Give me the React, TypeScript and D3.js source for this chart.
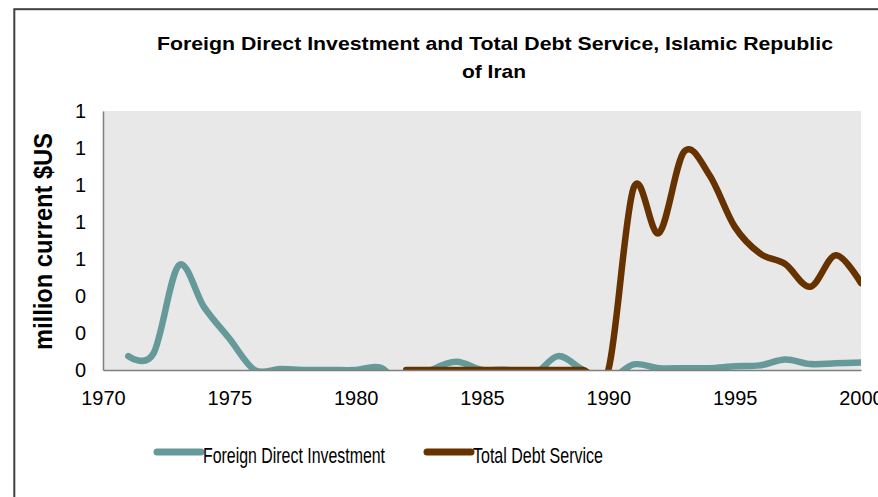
import React, { useEffect, useRef } from 'react';
import * as d3 from 'd3';

// years 1970..2000
const years = d3.range(1970, 2001);

// Foreign Direct Investment, million current $US (null = no data)
const fdiValues: (number | null)[] = [
  null, 0.075, 0.09, 0.565, 0.34, 0.17, 0, 0.005, 0, 0, 0,
  0.012, -0.1, 0, 0.045, 0, 0, -0.03, 0.075, 0, -0.05,
  0.03, 0.01, 0.01, 0.01, 0.02, 0.025, 0.057, 0.032, 0.036, 0.04,
];

// Total Debt Service, million current $US
const debtValues: (number | null)[] = [
  null, null, null, null, null, null, null, null, null, null, null,
  null, 0, 0, 0, 0, 0, 0, 0, 0, 0,
  0.985, 0.74, 1.18, 1.054, 0.775, 0.63, 0.573, 0.45, 0.62, 0.47,
];

const yTicks = [0, 0.2, 0.4, 0.6, 0.8, 1.0, 1.2, 1.4];
const xTicks = [1970, 1975, 1980, 1985, 1990, 1995, 2000];

const seriesNames = ['Foreign Direct Investment', 'Total Debt Service'];
const seriesColors = ['#669999', '#663300'];

interface Pt {
  year: number;
  v: number | null;
}

export default function App() {
  const svgRef = useRef<SVGSVGElement | null>(null);

  useEffect(() => {
    if (!svgRef.current) return;
    const svg = d3.select(svgRef.current);
    svg.selectAll('*').remove();

    const width = 878;
    const height = 497;
    const plot = { left: 103, right: 861, top: 111, bottom: 370 };
    const font = 'Liberation Sans, Arial, sans-serif';

    svg.attr('width', width).attr('height', height);

    // outer frame
    svg.append('rect')
      .attr('x', 14.3)
      .attr('y', 9.2)
      .attr('width', 1000)
      .attr('height', 1000)
      .attr('fill', 'white')
      .attr('stroke', '#404040')
      .attr('stroke-width', 2);

    const x = d3.scaleLinear().domain([1970, 2000]).range([plot.left, plot.right]);
    const y = d3.scaleLinear().domain([0, 1.4]).range([plot.bottom, plot.top]);

    // plot background
    svg.append('rect')
      .attr('x', plot.left)
      .attr('y', plot.top)
      .attr('width', plot.right - plot.left)
      .attr('height', plot.bottom - plot.top)
      .attr('fill', '#e8e8e8');

    svg.append('defs').append('clipPath')
      .attr('id', 'plot-clip')
      .append('rect')
      .attr('x', plot.left)
      .attr('y', plot.top)
      .attr('width', plot.right - plot.left)
      .attr('height', plot.bottom - plot.top);

    // title (two lines, stretched to the reference width)
    const title = svg.append('g')
      .attr('font-family', font)
      .attr('font-weight', 'bold')
      .attr('font-size', 18.5)
      .attr('fill', '#000');
    title.append('text')
      .attr('x', 157).attr('y', 50)
      .attr('textLength', 676)
      .attr('lengthAdjust', 'spacingAndGlyphs')
      .text('Foreign Direct Investment and Total Debt Service, Islamic Republic');
    title.append('text')
      .attr('x', 462).attr('y', 77.5)
      .attr('textLength', 64)
      .attr('lengthAdjust', 'spacingAndGlyphs')
      .text('of Iran');

    // y axis title
    svg.append('text')
      .attr('transform', 'translate(52,350) rotate(-90)')
      .attr('font-family', font)
      .attr('font-weight', 'bold')
      .attr('font-size', 25)
      .attr('textLength', 217)
      .attr('lengthAdjust', 'spacingAndGlyphs')
      .text('million current $US');

    // lines
    const line = d3.line<Pt>()
      .defined(d => d.v != null)
      .x(d => x(d.year))
      .y(d => y(d.v as number))
      .curve(d3.curveCardinal.tension(0));

    const series = [fdiValues, debtValues];
    const lines = svg.append('g').attr('clip-path', 'url(#plot-clip)');
    series.forEach((vals, i) => {
      const pts: Pt[] = years.map((yr, j) => ({ year: yr, v: vals[j] }));
      lines.append('path')
        .datum(pts)
        .attr('fill', 'none')
        .attr('stroke', seriesColors[i])
        .attr('stroke-width', 6.5)
        .attr('stroke-linecap', 'round')
        .attr('stroke-linejoin', 'round')
        .attr('d', line);
    });

    // axes
    const yAxis = d3.axisLeft(y)
      .tickValues(yTicks)
      .tickSize(0)
      .tickPadding(17)
      .tickFormat(d => d3.format('.0f')(d as number));
    const gy = svg.append('g')
      .attr('transform', `translate(${plot.left},0)`)
      .call(yAxis);
    gy.select('.domain').attr('stroke', '#7f7f7f').attr('stroke-width', 1.5);
    gy.selectAll('text')
      .attr('font-family', font)
      .attr('font-size', 20)
      .attr('fill', '#000');

    const xAxis = d3.axisBottom(x)
      .tickValues(xTicks)
      .tickSize(0)
      .tickPadding(21)
      .tickFormat(d => String(d));
    const gx = svg.append('g')
      .attr('transform', `translate(0,${plot.bottom})`)
      .call(xAxis);
    gx.select('.domain').attr('stroke', '#7f7f7f').attr('stroke-width', 1.5);
    gx.selectAll('text')
      .attr('font-family', font)
      .attr('font-size', 20)
      .attr('fill', '#000');

    // legend
    const legendX = [157, 427];
    const legendTextLen = [182, 130];
    const legend = svg.append('g');
    seriesNames.forEach((name, i) => {
      legend.append('line')
        .attr('x1', legendX[i])
        .attr('x2', legendX[i] + 44)
        .attr('y1', 452)
        .attr('y2', 452)
        .attr('stroke', seriesColors[i])
        .attr('stroke-width', 7)
        .attr('stroke-linecap', 'round');
      legend.append('text')
        .attr('x', legendX[i] + 46)
        .attr('y', 463)
        .attr('font-family', font)
        .attr('font-size', 21.5)
        .attr('textLength', legendTextLen[i])
        .attr('lengthAdjust', 'spacingAndGlyphs')
        .attr('fill', '#000')
        .text(name);
    });
  }, []);

  return (
    <svg
      ref={svgRef}
      style={{ position: 'absolute', left: 0, top: 0, display: 'block' }}
    />
  );
}
